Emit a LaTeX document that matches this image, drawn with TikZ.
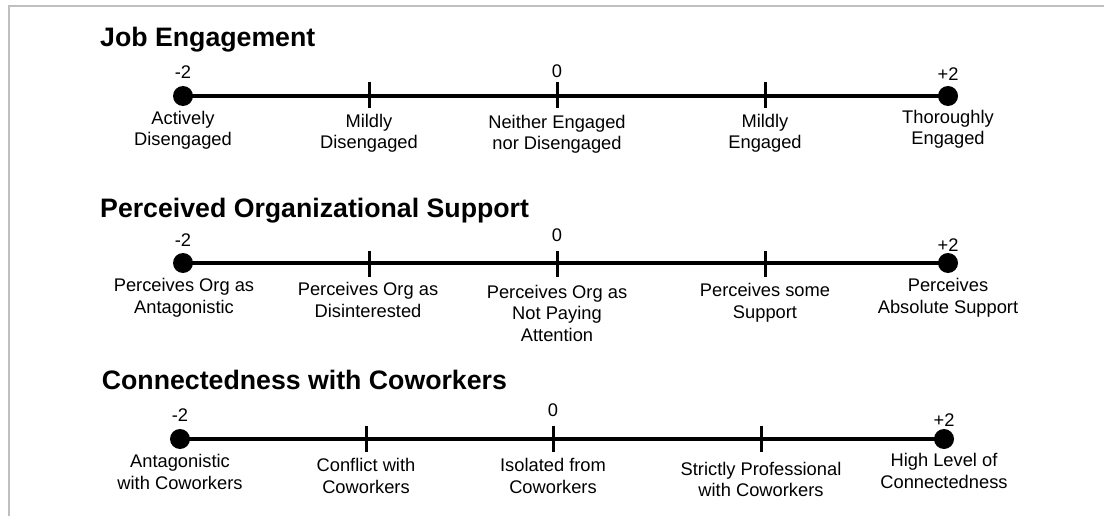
\documentclass[tikz,border=0pt]{standalone}
\usepackage{fontspec}
\setmainfont{Liberation Sans}
\begin{document}
\begin{tikzpicture}[x=1pt,y=-1pt,
  lbl/.style={font=\fontsize{18.3}{21.3}\selectfont, align=center, inner sep=0pt, anchor=base},
  num/.style={font=\fontsize{18.3}{21.3}\selectfont, inner sep=0pt, anchor=base},
  ttl/.style={font=\fontsize{26.7}{30}\selectfont\bfseries, inner sep=0pt, anchor=base west},
  dot/.style={circle, fill=black, inner sep=0pt, minimum size=20pt},
  axis/.style={line width=3.3pt},
  tk/.style={line width=3pt},
  frame/.style={line width=2pt, draw=black!25}]
\useasboundingbox (0,0) rectangle (1104,516);
% frame
\coordinate (f1) at (9,516);
\coordinate (f2) at (9,6);
\coordinate (f3) at (1104,6);
\draw[frame] (f1) -- (f2) -- (f3);

% ---------- Row 1 ----------
\node[ttl] (t1) at (100,46.7) {Job Engagement};
\node[dot] (a1) at (183,96) {};
\coordinate (b1) at (369,95);
\coordinate (c1) at (557,95);
\coordinate (d1) at (765,95);
\node[dot] (e1) at (948,96) {};
\draw[axis] (a1.center) -- (e1.center);
\foreach \p in {b1,c1,d1} \draw[tk] ([yshift=13pt]\p) -- ([yshift=-13pt]\p);
\node[num] (n1a) at (183,78.3) {-2};
\node[num] (n1c) at (557,77.3) {0};
\node[num] (n1e) at (948,80.7) {+2};
% (anchor=base is the baseline of the last line)
\node[lbl] (l1a) at (183,146) {Actively\\Disengaged};
\node[lbl] (l1b) at (369,149) {Mildly\\Disengaged};
\node[lbl] (l1c) at (557,150) {Neither Engaged\\nor Disengaged};
\node[lbl] (l1d) at (765,149) {Mildly\\Engaged};
\node[lbl] (l1e) at (948,145) {Thoroughly\\Engaged};

% ---------- Row 2 ----------
\node[ttl] (t2) at (100,217.3) {Perceived Organizational Support};
\node[dot] (a2) at (183,263) {};
\coordinate (b2) at (369,264);
\coordinate (c2) at (557,264);
\coordinate (d2) at (765,264);
\node[dot] (e2) at (948,263) {};
\draw[axis] (a2.center) -- (e2.center);
\foreach \p in {b2,c2,d2} \draw[tk] ([yshift=13pt]\p) -- ([yshift=-13pt]\p);
\node[num] (n2a) at (183,246.7) {-2};
\node[num] (n2c) at (557,241.7) {0};
\node[num] (n2e) at (948,251.7) {+2};
\node[lbl] (l2a) at (184,313) {Perceives Org as\\Antagonistic};
\node[lbl] (l2b) at (368,317) {Perceives Org as\\Disinterested};
\node[lbl] (l2c) at (557,341) {Perceives Org as\\Not Paying\\Attention};
\node[lbl] (l2d) at (765,318) {Perceives some\\Support};
\node[lbl] (l2e) at (948,313) {Perceives\\Absolute Support};

% ---------- Row 3 ----------
\node[ttl] (t3) at (101.7,389.3) {Connectedness with Coworkers};
\node[dot] (a3) at (180,439) {};
\coordinate (b3) at (366,439);
\coordinate (c3) at (553,439);
\coordinate (d3) at (761,439);
\node[dot] (e3) at (944,439) {};
\draw[axis] (a3.center) -- (e3.center);
\foreach \p in {b3,c3,d3} \draw[tk] ([yshift=13pt]\p) -- ([yshift=-13pt]\p);
\node[num] (n3a) at (180,421) {-2};
\node[num] (n3c) at (553,416.7) {0};
\node[num] (n3e) at (944,426.7) {+2};
\node[lbl] (l3a) at (180,489) {Antagonistic\\with Coworkers};
\node[lbl] (l3b) at (366,493) {Conflict with\\Coworkers};
\node[lbl] (l3c) at (553,493) {Isolated from\\Coworkers};
\node[lbl] (l3d) at (761,496.5) {Strictly Professional\\with Coworkers};
\node[lbl] (l3e) at (944,488) {High Level of\\Connectedness};
\end{tikzpicture}
\end{document}
